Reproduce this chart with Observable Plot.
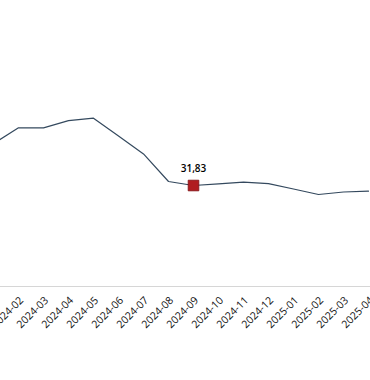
<!DOCTYPE html>
<html>
<head>
<meta charset="utf-8">
<script src="https://cdn.jsdelivr.net/npm/d3@7"></script>
<script src="https://cdn.jsdelivr.net/npm/@observablehq/plot@0.6"></script>
<style>
  html, body { margin: 0; padding: 0; background: #fff; overflow: hidden; }
  #chart svg { display: block; }
</style>
</head>
<body>
<div id="chart"></div>
<script>
const months = ["2024-01","2024-02","2024-03","2024-04","2024-05","2024-06","2024-07","2024-08",
                "2024-09","2024-10","2024-11","2024-12","2025-01","2025-02","2025-03","2025-04"];
const values = [38.8, 41.45, 41.45, 42.65, 43.05, 40.1, 37.1, 32.5,
                31.83, 32.1, 32.38, 32.16, 31.25, 30.33, 30.75, 30.88];
const highlightMonth = "2024-09";
const highlightLabel = "31,83";

const data = months.map((m, i) => ({month: m, value: values[i]}));
const hl = data.filter(d => d.month === highlightMonth);

const chart = Plot.plot({
  width: 370,
  height: 380,
  marginTop: 16,
  marginBottom: 94,
  marginLeft: 0,
  marginRight: 0,
  style: {fontFamily: "'Open Sans', 'DejaVu Sans', sans-serif", fontSize: "10px", background: "#fff"},
  x: {type: "point", domain: months, range: [-7.6, 368], padding: 0, label: null},
  y: {domain: [15, 60], axis: null},
  marks: [
    Plot.ruleY([15], {stroke: "#d6d6d6", strokeWidth: 1.2}),
    Plot.axisX({tickSize: 0, tickPadding: 12, dx: 3, tickRotate: -45, fill: "#111", fontSize: 10.5, label: null}),
    Plot.line(data, {x: "month", y: "value", stroke: "#34495e", strokeWidth: 1.2}),
    Plot.dot(hl, {x: "month", y: "value", symbol: "square", r: 6, fill: "#b01c20", stroke: "#7d1014", strokeWidth: 0.8}),
    Plot.text(hl, {x: "month", y: "value", text: () => highlightLabel, dy: -17, fill: "#000", fontSize: 10, fontWeight: 600})
  ]
});
document.getElementById("chart").append(chart);
</script>
</body>
</html>
